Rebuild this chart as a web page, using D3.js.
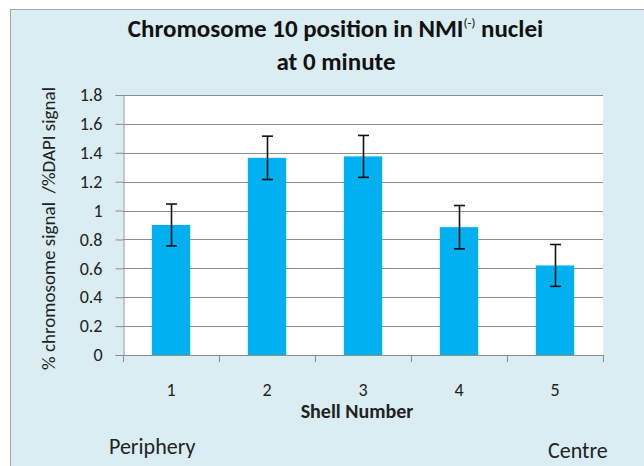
<!DOCTYPE html>
<html>
<head>
<meta charset="utf-8">
<script src="https://cdn.jsdelivr.net/npm/d3@7"></script>
<style>
  html, body { margin: 0; padding: 0; background: #ffffff; }
  svg { display: block; }
  text { font-family: Carlito, Lato, "Open Sans", sans-serif; }
</style>
</head>
<body>
<svg id="chart" width="644" height="466"></svg>
<script>
// Shell number categories, mean ratio and error (±)
const shells = ["1", "2", "3", "4", "5"];
const ratios = [0.90, 1.365, 1.375, 0.885, 0.62];
const errors = [0.145, 0.15, 0.145, 0.15, 0.145];
const yTicks = [0, 0.2, 0.4, 0.6, 0.8, 1, 1.2, 1.4, 1.6, 1.8];

const FONT = "Carlito, Lato, sans-serif";
const svg = d3.select("#chart");

// Chart frame
svg.append("rect")
  .attr("x", 10.5).attr("y", 9.5)
  .attr("width", 644).attr("height", 470)
  .attr("fill", "#daedf3")
  .attr("stroke", "#a6a6a6").attr("stroke-width", 1);

const plot = { left: 123, right: 603, top: 95, bottom: 355 };

const x = d3.scaleBand().domain(shells)
  .range([plot.left, plot.right]).paddingInner(0.6).paddingOuter(0.3);
const xEdges = d3.scaleLinear().domain([0, shells.length]).range([plot.left, plot.right]);
const y = d3.scaleLinear().domain([0, 1.8]).range([plot.bottom, plot.top]);

// Plot area
svg.append("rect")
  .attr("x", plot.left).attr("y", plot.top)
  .attr("width", plot.right - plot.left).attr("height", plot.bottom - plot.top)
  .attr("fill", "#ffffff");

// Horizontal gridlines
svg.append("g").selectAll("line").data(yTicks.filter(d => d > 0)).join("line")
  .attr("x1", plot.left).attr("x2", plot.right)
  .attr("y1", d => Math.round(y(d)) + 0.5).attr("y2", d => Math.round(y(d)) + 0.5)
  .attr("stroke", "#8c8c8c").attr("stroke-width", 1);

// Y axis
const yAxis = svg.append("g")
  .attr("transform", `translate(${plot.left + 0.5},0)`)
  .call(d3.axisLeft(y).tickValues(yTicks).tickFormat(d3.format("~g")).tickSize(8).tickPadding(13));
yAxis.attr("font-family", FONT).attr("font-size", 18);
yAxis.select(".domain").attr("stroke", "#8c8c8c");
yAxis.selectAll(".tick line").attr("stroke", "#8c8c8c");
yAxis.selectAll(".tick text").attr("fill", "#222");

// Bars
svg.append("g").selectAll("rect").data(shells).join("rect")
  .attr("x", d => x(d))
  .attr("width", x.bandwidth())
  .attr("y", (d, i) => y(ratios[i]))
  .attr("height", (d, i) => y(0) - y(ratios[i]))
  .attr("fill", "#00b0f0");

// Error bars
const eb = svg.append("g").attr("stroke", "#111").attr("stroke-width", 1.6);
shells.forEach((d, i) => {
  const cx = Math.round(x(d) + x.bandwidth() / 2) + 0.5;
  const hi = y(ratios[i] + errors[i]);
  const lo = y(ratios[i] - errors[i]);
  eb.append("line").attr("x1", cx).attr("x2", cx).attr("y1", hi).attr("y2", lo);
  eb.append("line").attr("x1", cx - 5.5).attr("x2", cx + 5.5).attr("y1", hi).attr("y2", hi);
  eb.append("line").attr("x1", cx - 5.5).attr("x2", cx + 5.5).attr("y1", lo).attr("y2", lo);
});

// X axis line with category boundary ticks
svg.append("line")
  .attr("x1", plot.left).attr("x2", plot.right + 0.5)
  .attr("y1", plot.bottom + 0.5).attr("y2", plot.bottom + 0.5)
  .attr("stroke", "#8c8c8c");
svg.append("g").selectAll("line").data(d3.range(shells.length + 1)).join("line")
  .attr("x1", d => Math.round(xEdges(d)) + 0.5).attr("x2", d => Math.round(xEdges(d)) + 0.5)
  .attr("y1", plot.bottom).attr("y2", plot.bottom + 7)
  .attr("stroke", "#8c8c8c");

// Category labels
svg.append("g").selectAll("text").data(shells).join("text")
  .attr("x", d => x(d) + x.bandwidth() / 2)
  .attr("y", 396)
  .attr("text-anchor", "middle")
  .attr("font-size", 18).attr("fill", "#222")
  .text(d => d);

// Axis titles
svg.append("text")
  .attr("x", 357).attr("y", 418)
  .attr("text-anchor", "middle")
  .attr("font-size", 20).attr("font-weight", "bold").attr("fill", "#222")
  .text("Shell Number");

svg.append("text")
  .attr("transform", "translate(55,228.5) rotate(-90)")
  .attr("text-anchor", "middle")
  .attr("font-size", 19).attr("fill", "#222")
  .style("white-space", "pre")
  .text("% chromosome signal  /%DAPI signal");

// Chart title (two lines)
const title = svg.append("text")
  .attr("x", 335.5).attr("y", 37)
  .attr("text-anchor", "middle")
  .attr("font-size", 25).attr("font-weight", "bold").attr("fill", "#111");
title.append("tspan").text("Chromosome 10 position in NMI");
title.append("tspan").attr("font-size", 13).attr("font-weight", "normal").attr("dy", -10).text("(-)");
title.append("tspan").attr("dy", 10).text(" nuclei");
svg.append("text")
  .attr("x", 336).attr("y", 70)
  .attr("text-anchor", "middle")
  .attr("font-size", 25).attr("font-weight", "bold").attr("fill", "#111")
  .text("at 0 minute");

// End labels
svg.append("text").attr("x", 109).attr("y", 454)
  .attr("font-size", 22).attr("fill", "#222")
  .text("Periphery");
svg.append("text").attr("x", 548).attr("y", 458)
  .attr("font-size", 22).attr("fill", "#222").text("Centre");
</script>
</body>
</html>
